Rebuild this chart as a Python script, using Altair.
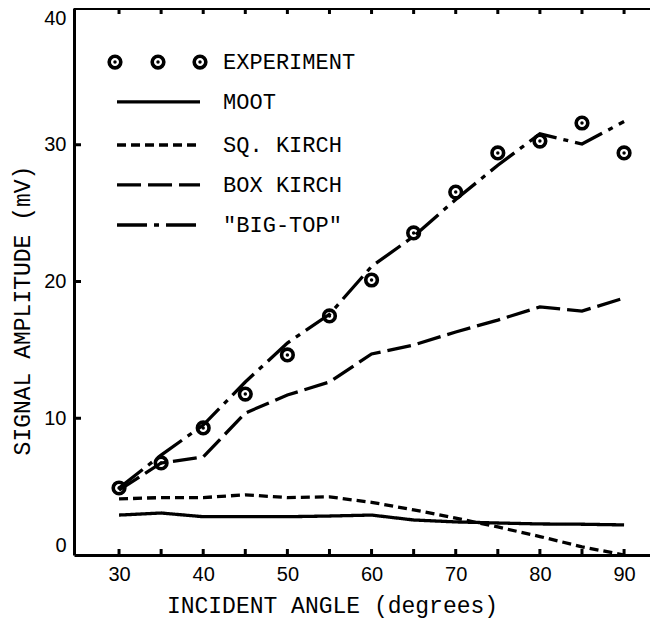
import altair as alt
import pandas as pd

# ---- data ----
angles = [30, 35, 40, 45, 50, 55, 60, 65, 70, 75, 80, 85, 90]
experiment = [4.90, 6.73, 9.29, 11.77, 14.63, 17.48, 20.11, 23.55, 26.54, 29.40, 30.27, 31.59, 29.40]
moot = [2.92, 3.07, 2.80, 2.80, 2.80, 2.85, 2.92, 2.56, 2.42, 2.34, 2.27, 2.25, 2.20]
sq_kirch = [4.10, 4.20, 4.20, 4.40, 4.20, 4.25, 3.85, 3.30, 2.70, 2.05, 1.35, 0.60, 0.00]
box_kirch = [4.75, 6.73, 7.17, 10.38, 11.70, 12.65, 14.70, 15.36, 16.31, 17.18, 18.14, 17.84, 18.79]
big_top = [4.90, 7.31, 9.50, 12.65, 15.50, 17.60, 21.10, 23.30, 26.00, 28.50, 30.80, 30.05, 31.70]

series_names = ["MOOT", "SQ. KIRCH", "BOX KIRCH", "\"BIG-TOP\""]
series_values = [moot, sq_kirch, box_kirch, big_top]
dash_patterns = [[1, 0], [9, 5], [24, 7], [30, 7, 5, 7]]

legend_labels = ["EXPERIMENT", "MOOT", "SQ. KIRCH", "BOX KIRCH", "\"BIG-TOP\""]
legend_y = [36.05, 33.13, 29.98, 27.06, 24.13]
legend_marker_x = [29.52, 34.63, 39.62]
legend_line_x = [29.76, 39.62]
legend_text_x = 42.36

x_tick_values = [30, 35, 40, 45, 50, 55, 60, 65, 70, 75, 80, 85, 90]
x_label_values = [30, 40, 50, 60, 70, 80, 90]
y_tick_values = [10, 20, 30]
y_label_values = [0, 10, 20, 30, 40]
x_domain = [24.65, 93.08]
y_domain = [0, 40]

W, H = 576, 547
MONO = "Liberation Mono"
SANS = "Liberation Sans"

# ---- tables ----
lines_df = pd.DataFrame(
    [{"angle": a, "value": v, "series": s}
     for s, vals in zip(series_names, series_values)
     for a, v in zip(angles, vals)]
)
exp_df = pd.DataFrame({"angle": angles, "value": experiment})
leg_lines_df = pd.DataFrame({
    "series": series_names,
    "y": legend_y[1:],
    "x1": [legend_line_x[0]] * 4,
    "x2": [legend_line_x[1]] * 4,
})
leg_text_df = pd.DataFrame({"label": legend_labels, "y": legend_y, "x": [legend_text_x] * 5})
leg_mark_df = pd.DataFrame({"x": legend_marker_x, "y": [legend_y[0]] * 3})
xt_df = pd.DataFrame({"angle": x_tick_values})
yt_df = pd.DataFrame({"v": y_tick_values})

xs = alt.Scale(domain=x_domain, nice=False, zero=False)
ys = alt.Scale(domain=y_domain, nice=False, zero=False)
dash_scale = alt.Scale(domain=series_names, range=dash_patterns)

x_axis = alt.Axis(
    values=x_label_values, ticks=False, grid=False,
    domainColor="black", domainWidth=3,
    labelFont=SANS, labelFontSize=20, labelColor="black", labelPadding=9,
    title="INCIDENT ANGLE (degrees)", titleFont=MONO, titleFontSize=23,
    titleFontWeight="normal", titleColor="black",
    titleX=258, titleY=50, titleBaseline="middle", titleAlign="center",
)
y_axis = alt.Axis(
    values=y_label_values, ticks=False, grid=False, labelFlush=True,
    domainColor="black", domainWidth=3,
    labelFont=SANS, labelFontSize=20, labelColor="black", labelPadding=8,
    title="SIGNAL AMPLITUDE (mV)", titleFont=MONO, titleFontSize=23,
    titleFontWeight="normal", titleColor="black",
    titleX=-52, titleY=302, titleBaseline="middle", titleAlign="center",
)

lines = alt.Chart(lines_df).mark_line(color="black", strokeWidth=3.3, strokeCap="butt").encode(
    x=alt.X("angle:Q", scale=xs, axis=x_axis),
    y=alt.Y("value:Q", scale=ys, axis=y_axis),
    strokeDash=alt.StrokeDash("series:N", scale=dash_scale, legend=None),
    detail="series:N",
)

RING = 135
DOT = 12
exp_ring = alt.Chart(exp_df).mark_point(
    shape="circle", filled=False, color="black", size=RING, strokeWidth=3.6, opacity=1
).encode(x=alt.X("angle:Q", scale=xs), y=alt.Y("value:Q", scale=ys))
exp_dot = alt.Chart(exp_df).mark_point(
    shape="circle", filled=True, color="black", size=DOT, opacity=1
).encode(x=alt.X("angle:Q", scale=xs), y=alt.Y("value:Q", scale=ys))

leg_lines = alt.Chart(leg_lines_df).mark_rule(color="black", strokeWidth=3.3, strokeCap="butt").encode(
    x=alt.X("x1:Q", scale=xs), x2="x2:Q", y=alt.Y("y:Q", scale=ys),
    strokeDash=alt.StrokeDash("series:N", scale=dash_scale, legend=None),
)
leg_ring = alt.Chart(leg_mark_df).mark_point(
    shape="circle", filled=False, color="black", size=RING, strokeWidth=3.6, opacity=1
).encode(x=alt.X("x:Q", scale=xs), y=alt.Y("y:Q", scale=ys))
leg_dot = alt.Chart(leg_mark_df).mark_point(
    shape="circle", filled=True, color="black", size=DOT, opacity=1
).encode(x=alt.X("x:Q", scale=xs), y=alt.Y("y:Q", scale=ys))
leg_text = alt.Chart(leg_text_df).mark_text(
    align="left", baseline="middle", font=MONO, fontSize=22, color="black"
).encode(x=alt.X("x:Q", scale=xs), y=alt.Y("y:Q", scale=ys), text="label:N")

bottom_ticks = alt.Chart(xt_df).mark_rule(color="black", strokeWidth=3).encode(
    x=alt.X("angle:Q", scale=xs), y=alt.value(H), y2=alt.value(H - 6)
)
top_ticks = alt.Chart(xt_df).mark_rule(color="black", strokeWidth=3).encode(
    x=alt.X("angle:Q", scale=xs), y=alt.value(0), y2=alt.value(6)
)
left_ticks = alt.Chart(yt_df).mark_rule(color="black", strokeWidth=3).encode(
    y=alt.Y("v:Q", scale=ys), x=alt.value(0), x2=alt.value(7)
)
top_border = alt.Chart(xt_df).mark_rule(color="black", strokeWidth=3).encode(
    x=alt.value(0), x2=alt.value(W), y=alt.value(0)
)

chart = alt.layer(
    lines, exp_ring, exp_dot, leg_lines, leg_ring, leg_dot, leg_text,
    bottom_ticks, top_ticks, left_ticks, top_border,
).properties(
    width=W, height=H,
    autosize=alt.AutoSizeParams(type="none"),
    padding={"left": 66, "top": 0, "right": 0, "bottom": 64},
    background="white",
).configure_view(stroke=None)

chart.save("out.html", embed_options={"renderer": "svg", "actions": False})
